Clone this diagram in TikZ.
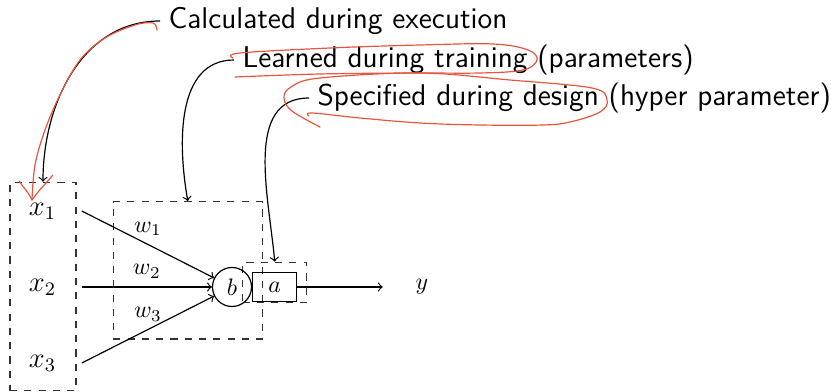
\documentclass[tikz,border=0pt]{standalone}
\usepackage{tikz}
\definecolor{pen}{RGB}{232,85,62}
\tikzset{
  lbl/.style={font=\sffamily\fontsize{12.6}{15}\selectfont, anchor=west},
  var/.style={minimum width=32.5pt, inner sep=3.33pt},
  grp/.style={draw=black!80, dashed, inner sep=0pt},
  pointer/.style={->},
  scribble/.style={draw=pen, line width=0.5pt, line cap=round, line join=round},
}
\begin{document}
\begin{tikzpicture}[x=0.42pt,y=-0.42pt,line width=0.5pt]
\useasboundingbox (0,0) rectangle (831,392);

% dashed groups
\node[grp, minimum width=27.7pt, minimum height=87.5pt] (xbox) at (43,286.5) {};
\node[grp, minimum width=62.6pt, minimum height=57.7pt] (wbox) at (187.8,270.3) {};
\node[grp, minimum width=26.9pt, minimum height=16.8pt] (abox) at (274.7,282.3) {};

% network nodes
\node[var, font=\large] (x1) at (42.5,211) {$x_1$};
\node[var, font=\large] (x2) at (42.5,287) {$x_2$};
\node[var, font=\large] (x3) at (42.5,363) {$x_3$};
\node[draw, circle, minimum size=16.4pt, inner sep=0pt] (b) at (232,287) {$b$};
\node[draw, rectangle, minimum width=18.5pt, minimum height=12.4pt, inner sep=0pt, anchor=west] (a) at (b.east) {$a$};
\node[var] (y) at (422,287) {$y$};

\draw[pointer] (x1.east) -- node[midway, above] {$w_1$} (b);
\draw[pointer] (x2.east) -- node[midway, above] {$w_2$} (b);
\draw[pointer] (x3.east) -- node[midway, above] {$w_3$} (b);
\draw[pointer] (a.east) -- (y.west);

% annotations
\node[lbl] (calc) at (160,21) {Calculated during execution};
\node[lbl] (learn) at (234,60) {Learned during training (parameters)};
\node[lbl] (spec) at (309,98) {Specified during design (hyper parameter)};

\draw[pointer] (calc.west) to[out=180, in=90] (xbox.north);
\draw[pointer] (learn.west) to[out=180, in=100] (wbox.north);
\draw[pointer] (spec.west) to[out=180, in=95] (abox.north);

% red pen marks
\draw[scribble] plot[smooth, tension=0.6] coordinates {(157,30) (153,23) (135,25) (105,38) (80,60) (60,95) (45,130) (35,165) (32,200)};
\draw[scribble] (19,181) to[out=-55, in=115] (32,200) to[out=55, in=-130] (53,175);
\draw[scribble] plot[smooth, tension=0.6] coordinates {(233,58) (240,53) (330,48) (420,45) (493,44) (528,50) (537,60) (523,70) (480,73) (410,73) (320,74) (235,77)};
\draw[scribble] plot[smooth, tension=0.6] coordinates {(320,127) (292,111) (284,98) (291,87) (320,78) (420,73) (510,80) (592,88) (607,100) (600,112) (570,122) (543,125) (480,125) (420,123) (360,118) (312,113) (309,116)};
\end{tikzpicture}
\end{document}
